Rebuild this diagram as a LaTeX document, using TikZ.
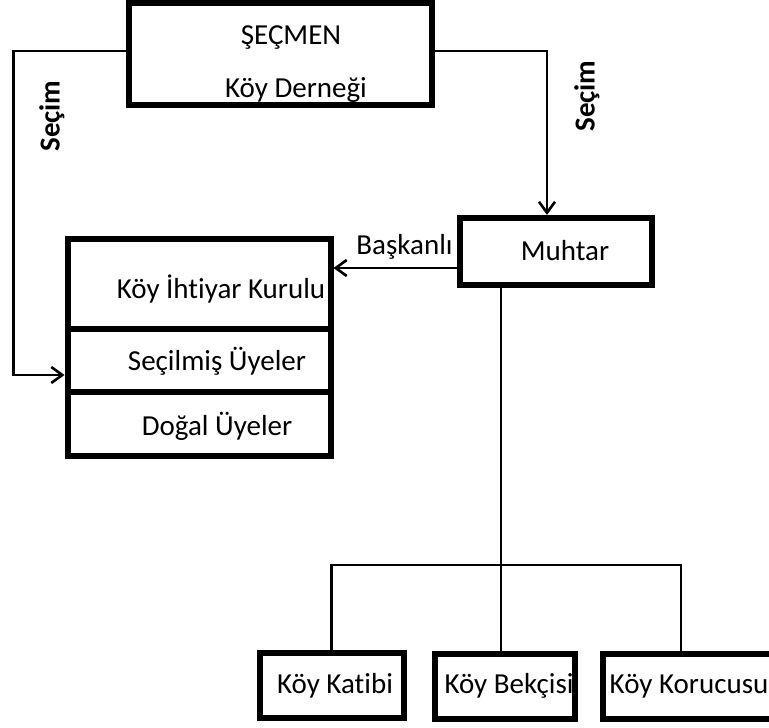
\documentclass[tikz,border=0pt]{standalone}
\usepackage{fontspec}
\setmainfont[Ligatures=NoCommon]{Carlito}
\usetikzlibrary{arrows.meta}
\begin{document}
\begin{tikzpicture}[x=1pt,y=-1pt,
  font=\fontsize{29}{34}\selectfont,
  box/.style={draw, line width=6pt, inner sep=0pt, fill=white},
  conn/.style={line width=2.6pt},
  arr/.style={conn, -{Straight Barb[length=11pt,width=16pt]}},
  lbl/.style={anchor=base, inner sep=0pt},
  vlbl/.style={rotate=90, inner sep=0pt, font=\fontsize{29}{34}\selectfont\bfseries}]
\useasboundingbox (0,0) rectangle (769,728);
\clip (0,0) rectangle (769,728);
% boxes
\node[box, minimum width=303pt, minimum height=102pt] (secmen) at (280,53.5) {};
\node[box, minimum width=263pt, minimum height=89.5pt] (kurul) at (199,283.75) {};
\node[box, minimum width=263pt, minimum height=63pt] (secilmis) at (199,360) {};
\node[box, minimum width=263pt, minimum height=64pt] (dogal) at (199,423.5) {};
\node[box, minimum width=191.5pt, minimum height=66.5pt] (muhtar) at (555.75,251.25) {};
\node[box, minimum width=144pt, minimum height=65pt] (katibi) at (331.5,685) {};
\node[box, minimum width=140pt, minimum height=65pt] (bekcisi) at (505,686.5) {};
\node[box, minimum width=172pt, minimum height=65pt] (korucusu) at (689,686.5) {};
% texts
\node[lbl] (tsecmen) at (291,45) {ŞEÇMEN};
\node[lbl] (tdernek) at (296,97) {Köy Derneği};
\node[lbl] (tkurul) at (221,298) {Köy İhtiyar Kurulu};
\node[lbl] (tsecilmis) at (217,370) {Seçilmiş Üyeler};
\node[lbl] (tdogal) at (217,435) {Doğal Üyeler};
\node[lbl] (tmuhtar) at (565,260) {Muhtar};
\node[lbl] (tbaskan) at (404.5,254) {Başkanlı};
\node[lbl] (tkatibi) at (335,693) {Köy Katibi};
\node[lbl] (tbekci) at (509,693) {Köy Bekçisi};
\node[lbl] (tkoruc) at (689,693) {Köy Korucusu};
\node[vlbl] (secimL) at (52,116) {Seçim};
\node[vlbl] (secimR) at (587,96) {Seçim};
% connector coordinates
\coordinate (lc) at (13.5,51);
\coordinate (lb) at (13.5,375);
\coordinate (rc) at (547,51);
\coordinate (ba) at (0,268);
\coordinate (hb) at (501,565);
\coordinate (d3) at (681,565);
% connectors
\draw[arr] (secmen.west |- lc) -- (lc) -- (lb) -- (secilmis.west |- lb);
\draw[arr] (secmen.east |- rc) -- (rc) -- (muhtar.north -| rc);
\draw[arr] (muhtar.west |- ba) -- (kurul.east |- ba);
\draw[conn] (muhtar.south -| hb) -- (hb);
\draw[conn] (katibi.north) -- (katibi.north |- hb) -- (d3) -- (korucusu.north -| d3);
\draw[conn] (hb) -- (bekcisi.north -| hb);
\end{tikzpicture}
\end{document}
